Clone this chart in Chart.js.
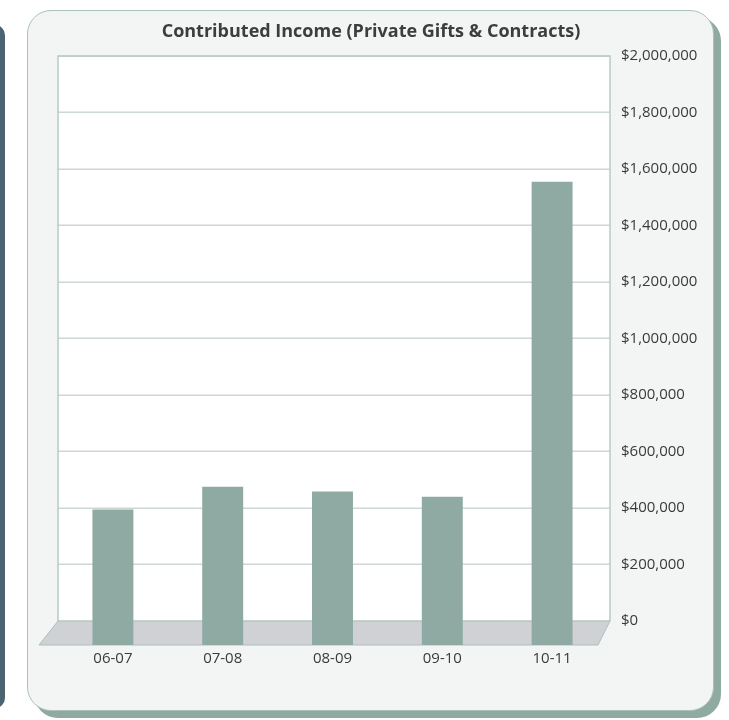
<!DOCTYPE html>
<html>
<head>
<meta charset="utf-8">
<script src="https://cdn.jsdelivr.net/npm/chart.js@4.4.1/dist/chart.umd.min.js"></script>
<style>
  html, body { margin: 0; padding: 0; background: #ffffff; }
  body { width: 729px; height: 720px; position: relative; overflow: hidden; }
  #leftbar { position: absolute; left: -20px; top: 25px; width: 25px; height: 683px; background: #4e6371; border-radius: 10px; }
  #card { position: absolute; left: 27px; top: 10px; width: 685px; height: 699px; background: #f3f5f4; border: 1.5px solid #aac3ba; border-radius: 24px; box-shadow: 7px 7px 0 #8eaaa1; }
  #wrap { position: absolute; left: 0; top: 0; width: 729px; height: 720px; }
</style>
</head>
<body>
<div id="leftbar"></div>
<div id="card"></div>
<div id="wrap"><canvas id="c" width="729" height="720"></canvas></div>
<script>
const chartTitle = 'Contributed Income (Private Gifts & Contracts)';
const categories = ['06-07', '07-08', '08-09', '09-10', '10-11'];
const income = [395000, 475000, 458000, 440000, 1555000];
const yTicks = [0, 200000, 400000, 600000, 800000, 1000000, 1200000, 1400000, 1600000, 1800000, 2000000];
const floorDepth = -85000;

const fontFamily = '"Open Sans", "Noto Sans", sans-serif';

function wallBounds(a) {
  return { L: a.left, R: a.right + 3 };
}

const decor = {
  id: 'decor',
  beforeDraw(chart) {
    const { ctx, chartArea: a, scales } = chart;
    const y0 = scales.y.getPixelForValue(0);
    const { L, R } = wallBounds(a);
    ctx.save();
    ctx.fillStyle = '#ffffff';
    ctx.fillRect(L, a.top, R - L, y0 - a.top);
    // title
    ctx.fillStyle = '#3d3d3d';
    ctx.font = 'bold 18px ' + fontFamily;
    ctx.textAlign = 'center';
    ctx.textBaseline = 'middle';
    ctx.fillText(chartTitle, 371, 32);
    ctx.restore();
  },
  beforeDatasetsDraw(chart) {
    const { ctx, chartArea: a, scales } = chart;
    const ys = scales.y;
    const y0 = ys.getPixelForValue(0);
    const yb = a.bottom;
    const { L, R } = wallBounds(a);
    ctx.save();
    // gridlines from the y scale's ticks
    ctx.strokeStyle = '#cdd8d4';
    ctx.lineWidth = 1.5;
    ys.ticks.forEach(t => {
      const y = Math.round(ys.getPixelForValue(t.value)) + 0.25;
      ctx.beginPath();
      ctx.moveTo(L, y);
      ctx.lineTo(R, y);
      ctx.stroke();
    });
    // wall border
    ctx.strokeStyle = '#b7ccc4';
    ctx.lineWidth = 1.5;
    ctx.beginPath();
    ctx.moveTo(L, y0);
    ctx.lineTo(L, a.top);
    ctx.lineTo(R, a.top);
    ctx.lineTo(R, y0);
    ctx.stroke();
    // floor
    ctx.beginPath();
    ctx.moveTo(L, y0);
    ctx.lineTo(R, y0);
    ctx.lineTo(R - 12, yb);
    ctx.lineTo(L - 19, yb);
    ctx.closePath();
    ctx.fillStyle = '#d0d1d5';
    ctx.fill();
    ctx.strokeStyle = '#a9c0b8';
    ctx.lineWidth = 1;
    ctx.stroke();
    ctx.restore();
  }
};

new Chart(document.getElementById('c'), {
  type: 'bar',
  data: {
    labels: categories,
    datasets: [{
      data: income,
      base: floorDepth,
      backgroundColor: '#8eaaa2',
      borderWidth: 0,
      barPercentage: 0.373,
      categoryPercentage: 1.0
    }]
  },
  options: {
    responsive: false,
    animation: false,
    events: [],
    layout: { padding: { left: 58, top: 56, right: 0, bottom: 0 } },
    plugins: { legend: { display: false }, title: { display: false }, tooltip: { enabled: false } },
    scales: {
      x: {
        grid: { display: false, drawTicks: false },
        border: { display: false },
        ticks: { color: '#3a3a3a', font: { family: fontFamily, size: 15 }, padding: 5 },
        afterFit(s) { s.height = 75; }
      },
      y: {
        position: 'right',
        min: floorDepth,
        max: 2000000,
        afterBuildTicks(s) { s.ticks = yTicks.map(v => ({ value: v })); },
        afterFit(s) { s.width = 122; },
        grid: { display: false, drawTicks: false },
        border: { display: false },
        ticks: {
          color: '#3a3a3a',
          font: { family: fontFamily, size: 15 },
          padding: 14,
          callback: v => '$' + v.toLocaleString('en-US')
        }
      }
    }
  },
  plugins: [decor]
});
</script>
</body>
</html>
